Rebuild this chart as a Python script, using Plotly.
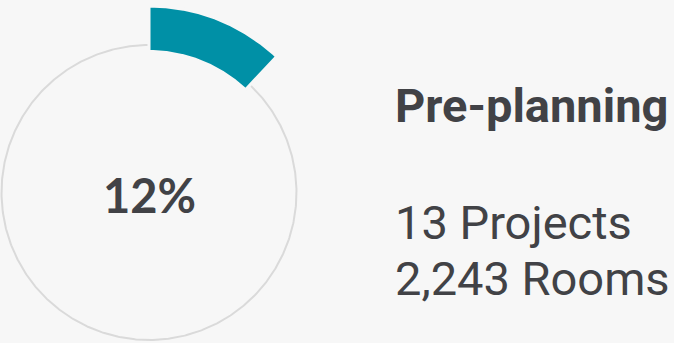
import numpy as np
import plotly.graph_objects as go

# Stage summary values
stage = "Pre-planning"
share_pct = 12
projects = 13
rooms = 2243

BG = "#f7f7f7"
TEAL = "#0090a6"
RING = "#dadada"
INK = "#414246"

# Gauge geometry (axis units are screen pixels, origin at the ring centre)
R_RING = 147.5
R_IN, R_OUT = 141.0, 186.5


def arc(r, a0, a1, n):
    """Points on a circle of radius r, angles in degrees clockwise from 12 o'clock."""
    t = np.radians(np.linspace(a0, a1, n))
    return r * np.sin(t), r * np.cos(t)


fig = go.Figure()

# Full background ring
rx, ry = arc(R_RING, 0, 360, 721)
fig.add_trace(go.Scatter(x=rx, y=ry, mode="lines",
                         line=dict(color=RING, width=2),
                         hoverinfo="skip", showlegend=False))

# Progress segment
sweep = 360 * share_pct / 100
ox, oy = arc(R_OUT, 0, sweep, 200)
ix, iy = arc(R_IN, sweep, 0, 200)
fig.add_trace(go.Scatter(x=np.r_[ox, ix, ox[:1]], y=np.r_[oy, iy, oy[:1]],
                         mode="lines", fill="toself", fillcolor=TEAL,
                         line=dict(color=BG, width=3),
                         hoverinfo="skip", showlegend=False))

annotations = [
    dict(x=0, y=-2, text=f"<b>{share_pct}%</b>", xanchor="center", yanchor="middle",
         font=dict(family="Lato", size=47, color=INK)),
    dict(x=244, y=87, text=f"<b>{stage}</b>", xanchor="left", yanchor="middle",
         font=dict(family="Roboto", size=47, color=INK)),
    dict(x=244, y=-30, text=f"{projects} Projects", xanchor="left", yanchor="middle",
         font=dict(family="Roboto", size=47, color=INK)),
    dict(x=244, y=-86, text=f"{rooms:,} Rooms", xanchor="left", yanchor="middle",
         font=dict(family="Roboto", size=47, color=INK)),
]
for a in annotations:
    a.update(xref="x", yref="y", showarrow=False)

fig.update_layout(
    width=674, height=343,
    margin=dict(l=0, r=0, t=0, b=0),
    paper_bgcolor=BG, plot_bgcolor=BG,
    xaxis=dict(range=[-149, 525], visible=False, fixedrange=True),
    yaxis=dict(range=[-150.5, 192.5], visible=False, fixedrange=True),
    annotations=annotations,
    showlegend=False,
)

fig.write_html("out.html", config=dict(displayModeBar=False))
